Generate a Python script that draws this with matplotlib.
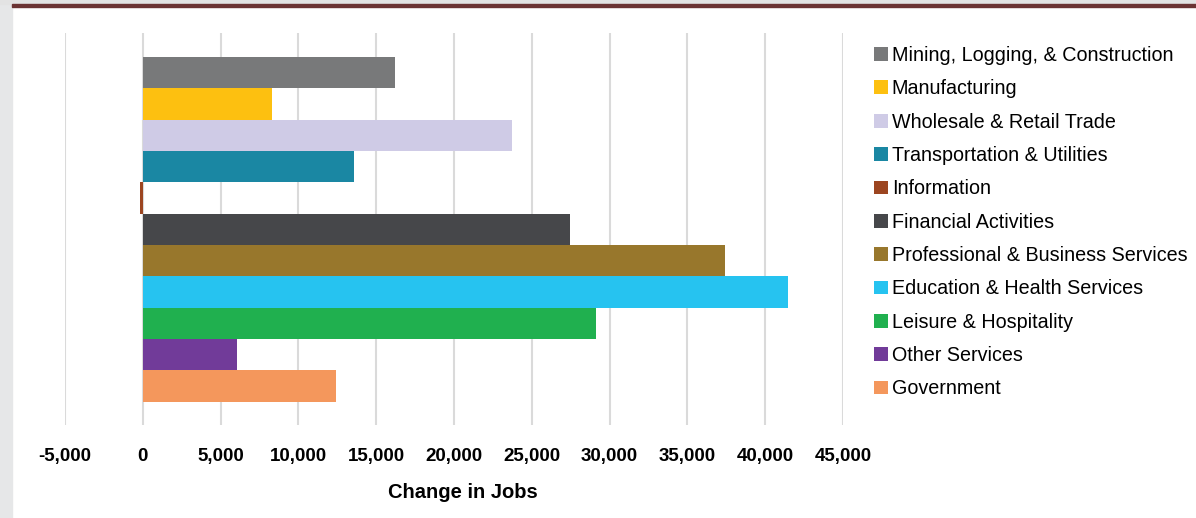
import matplotlib
matplotlib.use("Agg")
import matplotlib.pyplot as plt
from matplotlib.patches import Rectangle, Patch
from matplotlib.ticker import FuncFormatter

categories = ["Mining, Logging, & Construction", "Manufacturing", "Wholesale & Retail Trade",
              "Transportation & Utilities", "Information", "Financial Activities",
              "Professional & Business Services", "Education & Health Services",
              "Leisure & Hospitality", "Other Services", "Government"]
values = [16200, 8300, 23700, 13550, -150, 27450, 37400, 41450, 29100, 6050, 12400]
colors = ["#78797a", "#fdc010", "#cfcbe6", "#1a87a3", "#9c4520", "#46474a",
          "#98772c", "#26c3f0", "#20b04f", "#713b99", "#f4975c"]
xticks = [-5000, 0, 5000, 10000, 15000, 20000, 25000, 30000, 35000, 40000, 45000]

plt.rcParams['font.family'] = ['Liberation Sans', 'DejaVu Sans']

W, H = 1196, 518
fig = plt.figure(figsize=(W / 100, H / 100), dpi=100)
fig.patch.set_facecolor("white")

# decorative frame pieces
fig.add_artist(Rectangle((0, 0), 12 / W, 1, transform=fig.transFigure, color="#e6e7e8", zorder=0))
fig.add_artist(Rectangle((0, 1 - 4 / H), 1, 4 / H, transform=fig.transFigure, color="#e3e3e3", zorder=0))
fig.add_artist(Rectangle((12 / W, 1 - 7 / H), 1, 3 / H, transform=fig.transFigure, color="#6b3333", zorder=1))

left, right = 65 / W, 843 / W
top, bottom = 1 - 33 / H, 1 - 425 / H
ax = fig.add_axes([left, bottom, right - left, top - bottom])

n = len(categories)
ypos = list(range(n))
for i in range(n):
    ax.barh(ypos[i], values[i], height=1.0, color=colors[i], label=categories[i], zorder=3)

ax.set_xlim(-5000, 45000)
ax.set_ylim(n - 0.5 + 0.74, -0.5 - 0.76)
ax.set_xticks(xticks)
ax.xaxis.set_major_formatter(FuncFormatter(lambda v, p: f"{int(v):,}"))
ax.set_yticks([])
ax.grid(axis="x", color="#dadada", linewidth=1.5, zorder=0)
ax.set_axisbelow(True)
for s in ax.spines.values():
    s.set_visible(False)
ax.tick_params(axis="x", length=0, pad=16.5, labelsize=13.5)
for lab in ax.get_xticklabels():
    lab.set_fontweight("bold")

fig.text(463 / W, 1 - 493 / H, "Change in Jobs", ha="center", va="center",
         fontsize=14.5, fontweight="bold")

handles = [Patch(facecolor=c, edgecolor="none") for c in colors]
fig.legend(handles, categories, loc="upper left", bbox_to_anchor=(874 / W, 1 - 46 / H),
           bbox_transform=fig.transFigure, frameon=False, fontsize=14.25,
           handlelength=0.7, handleheight=0.7, handletextpad=0.2,
           labelspacing=0.725, borderpad=0, borderaxespad=0)

fig.savefig("out.png", dpi=100)
